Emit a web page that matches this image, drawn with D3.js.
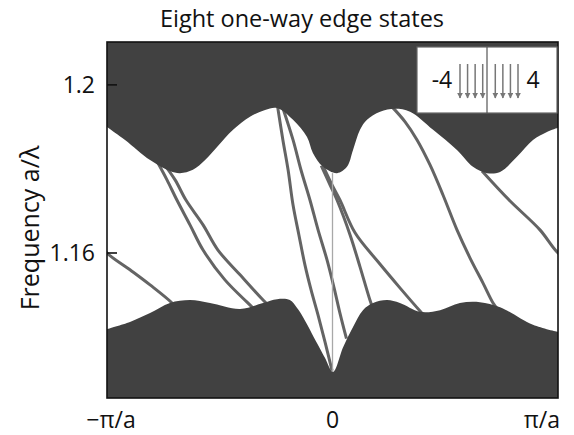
<!DOCTYPE html>
<html>
<head>
<meta charset="utf-8">
<script src="https://cdn.jsdelivr.net/npm/d3@7/dist/d3.min.js"></script>
<style>
  body { margin: 0; background: #fff; }
  text { font-family: "Open Sans", sans-serif; fill: #111; }
</style>
</head>
<body>
<svg width="574" height="435"></svg>
<script>
// k in units of pi/a, frequency in a/lambda
let upperBandEdge = [
  [-1.000, 1.1900], [-0.920, 1.1869], [-0.809, 1.1821], [-0.721, 1.1795], [-0.676, 1.1790],
  [-0.619, 1.1798], [-0.565, 1.1821], [-0.512, 1.1852], [-0.441, 1.1893], [-0.366, 1.1924],
  [-0.299, 1.1940], [-0.246, 1.1945], [-0.175, 1.1917], [-0.113, 1.1876], [-0.087, 1.1838],
  [-0.042, 1.1805], [0.020, 1.1790], [0.064, 1.1805], [0.091, 1.1845], [0.122, 1.1893],
  [0.153, 1.1917], [0.211, 1.1936], [0.277, 1.1943], [0.344, 1.1936], [0.446, 1.1893],
  [0.552, 1.1845], [0.623, 1.1805], [0.685, 1.1790], [0.743, 1.1793], [0.818, 1.1829],
  [0.889, 1.1869], [0.951, 1.1888], [1.000, 1.1898]
];

let lowerBandEdge = [
  [-1.000, 1.1419], [-0.898, 1.1436], [-0.809, 1.1457], [-0.721, 1.1481], [-0.632, 1.1488],
  [-0.543, 1.1481], [-0.410, 1.1467], [-0.308, 1.1481], [-0.246, 1.1490], [-0.189, 1.1488],
  [-0.157, 1.1469], [-0.131, 1.1448], [-0.069, 1.1386], [-0.033, 1.1350], [0.002, 1.1317],
  [0.047, 1.1376], [0.091, 1.1424], [0.135, 1.1464], [0.180, 1.1481], [0.242, 1.1488],
  [0.299, 1.1481], [0.388, 1.1460], [0.477, 1.1464], [0.565, 1.1481], [0.654, 1.1483],
  [0.743, 1.1471], [0.889, 1.1429], [1.000, 1.1412]
];

// the eight one-way edge states (stateA wraps through the zone boundary)
let stateA = [[0.663, 1.1795], [0.783, 1.1726], [0.920, 1.1655], [1.000, 1.1600],
  [1.102, 1.1560], [1.191, 1.1524], [1.288, 1.1481], [1.300, 1.1472]];
let stateB = [[-0.780, 1.1820], [-0.734, 1.1774], [-0.690, 1.1726], [-0.632, 1.1667],
  [-0.574, 1.1607], [-0.477, 1.1536], [-0.379, 1.1483], [-0.350, 1.1468]];
let stateC = [[-0.758, 1.1820], [-0.698, 1.1774], [-0.650, 1.1726], [-0.574, 1.1667],
  [-0.508, 1.1607], [-0.410, 1.1548], [-0.308, 1.1488], [-0.283, 1.1475]];
let stateD = [[-0.244, 1.1950], [-0.220, 1.1869], [-0.197, 1.1798], [-0.175, 1.1714],
  [-0.149, 1.1643], [-0.122, 1.1571], [-0.095, 1.1512], [-0.064, 1.1452], [-0.033, 1.1388], [-0.002, 1.1320]];
let stateE = [[-0.222, 1.1948], [-0.175, 1.1869], [-0.140, 1.1798], [-0.100, 1.1726],
  [-0.064, 1.1655], [-0.024, 1.1583], [0.007, 1.1517], [0.033, 1.1457], [0.062, 1.1396]];
let stateF = [[-0.050, 1.1808], [-0.011, 1.1762], [0.020, 1.1726], [0.078, 1.1643],
  [0.122, 1.1567], [0.166, 1.1488], [0.178, 1.1470]];
let stateG = [[-0.040, 1.1805], [-0.002, 1.1762], [0.033, 1.1726], [0.100, 1.1648],
  [0.202, 1.1579], [0.299, 1.1517], [0.388, 1.1462], [0.400, 1.1455]];
let stateH = [[0.260, 1.1950], [0.322, 1.1912], [0.375, 1.1869], [0.432, 1.1810],
  [0.490, 1.1738], [0.552, 1.1655], [0.610, 1.1588], [0.667, 1.1529], [0.712, 1.1481], [0.730, 1.1468]];
let edgeStates = [stateA, stateB, stateC, stateD, stateE, stateF, stateG, stateH];

// marker at k = 0
let zeroLine = [[0, 1.1790], [0, 1.1317]];

let yTickValues = [1.16, 1.2];
let yTickLabels = ["1.16", "1.2"];
let xTickValues = [-1, 0, 1];
let xTickLabels = ["\u2212\u03c0/a", "0", "\u03c0/a"];

// legend of the inset: chern numbers and arrow counts per side
let legendLabels = ["-4", "4"];
let legendArrowsPerSide = [4, 4];

let svg = d3.select("svg"),
  margin = {
    top: 42,
    right: 16,
    bottom: 37,
    left: 107
  },
  width = +svg.attr("width") - margin.left - margin.right,
  height = +svg.attr("height") - margin.top - margin.bottom;

let x = d3.scaleLinear().domain([-1, 1]).range([0, width]),
  y = d3.scaleLinear().domain([1.1255, 1.2102]).range([height, 0]);

let g = svg.append("g")
  .attr("transform", "translate(" + margin.left + "," + margin.top + ")");

svg.append("defs").append("clipPath")
  .attr("id", "plotClip")
  .append("rect")
  .attr("width", width)
  .attr("height", height);

let plot = g.append("g").attr("clip-path", "url(#plotClip)");

let line = d3.line()
  .x(function (d) { return x(d[0]); })
  .y(function (d) { return y(d[1]); })
  .curve(d3.curveCatmullRom.alpha(0.5));

// edge states, drawn first so the band fills cover the overshoot
edgeStates.forEach(function (s) {
  [0, -2].forEach(function (shift) {
    plot.append("path")
      .datum(s.map(function (d) { return [d[0] + shift, d[1]]; }))
      .attr("fill", "none")
      .attr("stroke", "#646464")
      .attr("stroke-width", 3)
      .attr("d", line);
  });
});

plot.append("path")
  .datum(zeroLine)
  .attr("fill", "none")
  .attr("stroke", "#a8a8a8")
  .attr("stroke-width", 1.3)
  .attr("d", d3.line().x(function (d) { return x(d[0]); }).y(function (d) { return y(d[1]); }));

// bulk bands
let upperArea = d3.area()
  .x(function (d) { return x(d[0]); })
  .y0(0)
  .y1(function (d) { return y(d[1]); })
  .curve(d3.curveCatmullRom.alpha(0.5));

let lowerArea = d3.area()
  .x(function (d) { return x(d[0]); })
  .y0(height)
  .y1(function (d) { return y(d[1]); })
  .curve(d3.curveCatmullRom.alpha(0.5));

plot.append("path").datum(upperBandEdge).attr("fill", "#414141").attr("d", upperArea);
plot.append("path").datum(lowerBandEdge).attr("fill", "#414141").attr("d", lowerArea);

// frame
g.append("rect")
  .attr("width", width)
  .attr("height", height)
  .attr("fill", "none")
  .attr("stroke", "#111")
  .attr("stroke-width", 1.6);

// inward y ticks
g.selectAll(".ytick")
  .data(yTickValues)
  .enter()
  .append("line")
  .attr("x1", 0)
  .attr("x2", 10)
  .attr("y1", function (d) { return y(d); })
  .attr("y2", function (d) { return y(d); })
  .attr("stroke", "#111")
  .attr("stroke-width", 1.6);

g.selectAll(".ylabel")
  .data(yTickValues)
  .enter()
  .append("text")
  .attr("x", -12)
  .attr("y", function (d) { return y(d); })
  .attr("dy", "0.36em")
  .attr("text-anchor", "end")
  .style("font-size", "23px")
  .text(function (d, i) { return yTickLabels[i]; });

g.selectAll(".xlabel")
  .data(xTickValues)
  .enter()
  .append("text")
  .attr("x", function (d) { return x(d); })
  .attr("y", height + 30)
  .attr("text-anchor", function (d) { return d === 1 ? "end" : "middle"; })
  .attr("dx", function (d) { return d === -1 ? 4 : (d === 1 ? 2 : 0); })
  .style("font-size", "23px")
  .text(function (d, i) { return xTickLabels[i]; });

svg.append("text")
  .attr("x", 302)
  .attr("y", 27)
  .attr("text-anchor", "middle")
  .style("font-size", "23.5px")
  .text("Eight one-way edge states");

svg.append("text")
  .attr("transform", "translate(39," + (margin.top + 186) + ") rotate(-90)")
  .attr("text-anchor", "middle")
  .style("font-size", "25px")
  .text("Frequency a/\u03bb");

// inset legend
let legend = svg.append("g").attr("transform", "translate(417,47)");
let lw = 140, lh = 66;

legend.append("rect")
  .attr("width", lw)
  .attr("height", lh)
  .attr("fill", "#fff")
  .attr("stroke", "#666")
  .attr("stroke-width", 1.2);

legend.append("line")
  .attr("x1", 70).attr("x2", 70)
  .attr("y1", 0).attr("y2", lh)
  .attr("stroke", "#555")
  .attr("stroke-width", 1.2);

svg.append("defs").append("marker")
  .attr("id", "head")
  .attr("viewBox", "0 0 10 10")
  .attr("refX", 9).attr("refY", 5)
  .attr("markerWidth", 4).attr("markerHeight", 4)
  .attr("orient", "auto")
  .append("path")
  .attr("d", "M0,0 L10,5 L0,10 z")
  .attr("fill", "#777");

let arrowX = d3.scalePoint()
  .domain(d3.range(legendArrowsPerSide[0] + legendArrowsPerSide[1]))
  .range([43, 96]);

legend.selectAll(".arrow")
  .data(d3.range(legendArrowsPerSide[0] + legendArrowsPerSide[1]))
  .enter()
  .append("line")
  .attr("x1", function (d) { return arrowX(d) + (d < legendArrowsPerSide[0] ? 0 : 5); })
  .attr("x2", function (d) { return arrowX(d) + (d < legendArrowsPerSide[0] ? 0 : 5); })
  .attr("y1", 17)
  .attr("y2", 51)
  .attr("stroke", "#777")
  .attr("stroke-width", 1.5)
  .attr("marker-end", "url(#head)");

legend.append("text")
  .attr("x", 25).attr("y", 41)
  .attr("text-anchor", "middle")
  .style("font-size", "23px")
  .text(legendLabels[0]);

legend.append("text")
  .attr("x", 116).attr("y", 41)
  .attr("text-anchor", "middle")
  .style("font-size", "23px")
  .text(legendLabels[1]);
</script>
</body>
</html>
